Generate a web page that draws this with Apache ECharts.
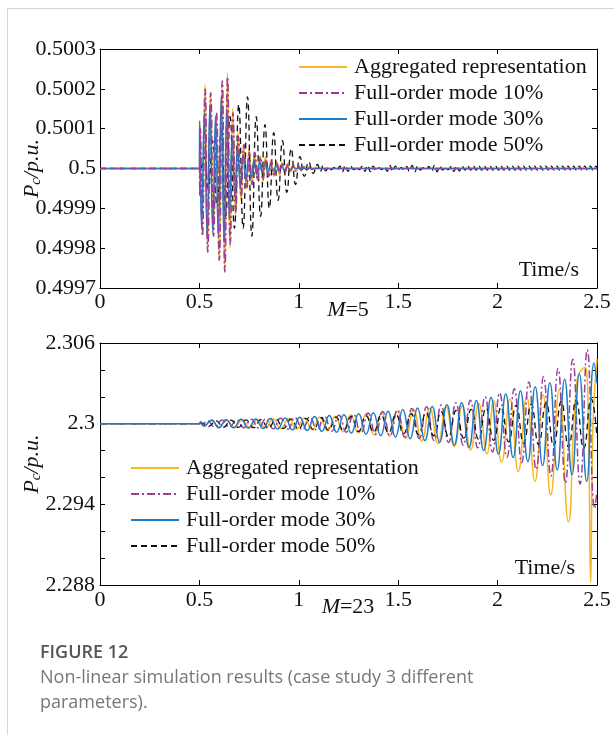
<!DOCTYPE html>
<html><head><meta charset="utf-8">
<script src="https://cdn.jsdelivr.net/npm/echarts@6/dist/echarts.min.js"></script>
<style>
html,body{margin:0;padding:0;background:#fff;}
#frame{position:absolute;left:7px;top:8px;width:607px;height:727px;border-left:1px solid #d6d6d6;border-top:1px solid #d6d6d6;}
#chart{position:absolute;left:0;top:0;width:614px;height:735px;}
</style></head><body>
<div id="frame"></div><div id="chart"></div>
<script>
const seriesNames = ['Aggregated representation','Full-order mode 10%','Full-order mode 30%','Full-order mode 50%'];
const xTickLabels = ['0','0.5','1','1.5','2','2.5'];
const topYTickLabels = ['0.4997','0.4998','0.4999','0.5','0.5001','0.5002','0.5003'];
const botYTickLabels = ['2.288','2.294','2.3','2.306'];

// ---- M=5 (top) ----
const topAgg = [[0,0.5],[0.5,0.5],[0.503,0.50011],[0.514,0.49984],[0.528,0.50021],[0.541,0.49980],[0.556,0.50019],[0.570,0.49984],[0.585,0.50013],[0.599,0.49977],[0.614,0.50021],[0.627,0.49975],[0.641,0.50024],[0.654,0.49980],[0.668,0.50015],[0.682,0.49988],[0.695,0.50009],[0.709,0.49992],[0.723,0.50006],[0.737,0.49995],[0.750,0.50005],[0.764,0.49996],[0.778,0.50004],[0.792,0.49997],[0.806,0.50003],[0.819,0.49997],[0.833,0.50003],[0.847,0.49998],[0.861,0.50002],[0.874,0.49998],[0.888,0.500018],[0.902,0.499985],[0.916,0.500014],[0.930,0.499988],[0.943,0.500011],[0.957,0.499991],[0.971,0.500009],[0.985,0.499993],[0.999,0.500007],[1.012,0.499995],[1.026,0.500005],[1.040,0.499996],[1.054,0.500004],[1.068,0.499997],[1.082,0.500003],[1.10,0.5],[2.5,0.5]];
const topF10 = [[0,0.5],[0.5,0.5],[0.502,0.49993],[0.505,0.50010],[0.515,0.49983],[0.529,0.50020],[0.542,0.49979],[0.557,0.50019],[0.571,0.49983],[0.586,0.50014],[0.600,0.49977],[0.615,0.50022],[0.628,0.49974],[0.642,0.50023],[0.655,0.49981],[0.669,0.50014],[0.683,0.49989],[0.696,0.50008],[0.710,0.49993],[0.724,0.50006],[0.738,0.49995],[0.751,0.50004],[0.765,0.49996],[0.779,0.50004],[0.793,0.49997],[0.807,0.50003],[0.820,0.49997],[0.834,0.50002],[0.848,0.49998],[0.862,0.500018],[0.875,0.499984],[0.889,0.500015],[0.903,0.499987],[0.917,0.500012],[0.931,0.49999],[0.944,0.50001],[0.958,0.499992],[0.972,0.500008],[0.986,0.499994],[1.0,0.500006],[1.013,0.499995],[1.027,0.500004],[1.041,0.499997],[1.055,0.500003],[1.069,0.499998],[1.09,0.5],[2.5,0.5]];
const topF30 = [[0,0.5],[0.5,0.5],[0.501,0.50012],[0.511,0.49985],[0.525,0.50014],[0.539,0.49983],[0.553,0.50016],[0.567,0.49984],[0.581,0.50013],[0.595,0.49983],[0.610,0.50018],[0.624,0.49982],[0.638,0.50015],[0.651,0.49988],[0.665,0.50008],[0.679,0.49993],[0.692,0.50005],[0.706,0.49996],[0.720,0.500035],[0.734,0.49997],[0.747,0.500025],[0.761,0.49998],[0.775,0.50002],[0.789,0.499985],[0.803,0.500015],[0.816,0.49999],[0.830,0.50001],[0.844,0.499992],[0.858,0.500008],[0.872,0.499994],[0.886,0.500006],[0.900,0.499995],[0.914,0.500005],[0.928,0.499996],[0.942,0.500004],[0.956,0.499997],[0.970,0.500003],[0.99,0.5],[2.5,0.5]];
const topF50 = [[0,0.5],[0.5,0.5],[0.522,0.50003],[0.544,0.49995],[0.566,0.50007],[0.588,0.49991],[0.610,0.50010],[0.632,0.49988],[0.654,0.50013],[0.676,0.49985],[0.698,0.50016],[0.720,0.49985],[0.742,0.50018],[0.764,0.49983],[0.786,0.50013],[0.808,0.49988],[0.830,0.50011],[0.852,0.49990],[0.874,0.50009],[0.896,0.49992],[0.918,0.50007],[0.940,0.49994],[0.962,0.50005],[0.984,0.49996],[1.006,0.50003],[1.028,0.49998],[1.050,0.500017],[1.072,0.499988],[1.094,0.50001],
[1.108,0.499992],[1.122,0.500007],[1.136,0.499994],[1.150,0.500004],[1.164,0.499997],[1.178,0.500003],[1.192,0.499996],[1.206,0.500006],[1.220,0.499992],[1.234,0.500008],[1.248,0.499993],[1.262,0.500005],[1.276,0.499997],[1.290,0.500002],[1.304,0.499997],[1.318,0.500005],[1.332,0.499993],[1.346,0.500008],[1.360,0.499992],[1.374,0.500006],[1.388,0.499996],[1.402,0.500002],[1.416,0.499997],[1.430,0.500005],[1.444,0.499993],[1.458,0.500008],[1.472,0.499992],[1.486,0.500006],[1.500,0.499996],[1.514,0.500002],[1.528,0.499997],[1.542,0.500005],[1.556,0.499993],[1.570,0.500008],[1.584,0.499992],[1.598,0.500006],[1.612,0.499996],[1.626,0.500002],[1.640,0.499997],[1.654,0.500005],[1.668,0.499993],[1.682,0.500008],[1.696,0.499992],[1.710,0.500006],[1.724,0.499996],[1.738,0.500002],[1.752,0.499997],[1.766,0.500005],[1.780,0.499993],[1.794,0.500007],[1.808,0.499994],[1.822,0.500006],[1.836,0.499996],[1.850,0.500006],[1.864,0.499996],[1.878,0.500006],[1.892,0.499996],[1.906,0.500006],[1.920,0.499996],[1.934,0.500006],[1.948,0.499996],[1.962,0.500006],[1.976,0.499996],[1.990,0.500006],[2.004,0.499996],[2.018,0.500006],[2.032,0.499996],[2.046,0.500006],[2.060,0.499996],[2.074,0.500006],[2.088,0.499996],[2.102,0.500006],[2.116,0.499996],[2.130,0.500006],[2.144,0.499996],[2.158,0.500006],[2.172,0.499996],[2.186,0.500006],[2.200,0.499996],[2.214,0.500006],[2.228,0.499996],[2.242,0.500006],[2.256,0.499996],[2.270,0.500006],[2.284,0.499996],[2.298,0.500006],[2.312,0.499996],[2.326,0.500006],[2.340,0.499996],[2.354,0.500006],[2.368,0.499996],[2.382,0.500006],[2.396,0.499996],[2.410,0.500006],[2.424,0.499996],[2.438,0.500006],[2.452,0.499996],[2.466,0.500006],[2.480,0.499996],[2.494,0.500006],[2.5,0.5]];

// ---- M=23 (bottom) ----
const botAgg = [[0,2.3],[0.5,2.3],[0.507,2.30010],[0.520,2.29982],[0.559,2.30024],[0.598,2.29974],[0.637,2.30026],[0.676,2.29972],[0.715,2.30028],[0.754,2.29970],[0.793,2.30031],[0.832,2.29967],[0.871,2.30034],[0.910,2.29963],[0.949,2.30038],[0.988,2.29959],[1.027,2.30043],[1.066,2.29954],[1.105,2.30049],[1.144,2.29947],[1.183,2.30056],[1.222,2.29939],[1.261,2.30064],[1.300,2.29930],[1.339,2.30073],[1.378,2.29918],[1.417,2.30083],[1.456,2.29905],[1.495,2.30094],[1.536,2.29890],[1.577,2.30104],[1.618,2.29872],[1.659,2.30114],[1.700,2.29852],[1.741,2.30125],[1.782,2.29830],[1.823,2.30136],[1.864,2.29805],[1.905,2.30150],[1.946,2.29775],[1.980,2.30170],[2.020,2.29715],[2.062,2.30182],[2.104,2.29643],[2.146,2.30200],[2.188,2.29570],[2.228,2.30215],[2.267,2.29470],[2.310,2.30250],[2.356,2.29270],[2.400,2.30330],[2.440,2.30420],[2.456,2.30000],[2.468,2.28820],[2.480,2.30000],[2.5,2.30480]];
const botF10 = [[0,2.3],[0.5,2.3],[0.507,2.30010],[0.515,2.29990],[0.540,2.30022],[0.577,2.29975],[0.614,2.30028],[0.651,2.29972],[0.687,2.30030],[0.724,2.29970],[0.761,2.30033],[0.798,2.29967],[0.834,2.30036],[0.871,2.29963],[0.908,2.30040],[0.945,2.29959],[0.981,2.30045],[1.018,2.29954],[1.055,2.30050],[1.092,2.29949],[1.128,2.30056],[1.165,2.29943],[1.202,2.30062],[1.239,2.29937],[1.275,2.30070],[1.312,2.29930],[1.349,2.30079],[1.386,2.29920],[1.422,2.30090],[1.459,2.29910],[1.496,2.30102],[1.533,2.29900],[1.569,2.30112],[1.606,2.29890],[1.643,2.30125],[1.680,2.29875],[1.716,2.30138],[1.753,2.29860],[1.790,2.30155],[1.827,2.29840],[1.863,2.30175],[1.900,2.29820],[1.937,2.30200],[1.974,2.29790],[2.010,2.30230],[2.047,2.29750],[2.084,2.30260],[2.121,2.29710],[2.157,2.30310],[2.194,2.29660],[2.231,2.30350],[2.268,2.29610],[2.304,2.30410],[2.341,2.29560],[2.378,2.30480],[2.415,2.29550],[2.451,2.30550],[2.488,2.29370],[2.5,2.29500]];
const botF30 = [[0,2.3],[0.5,2.3],[0.506,2.30014],[0.524,2.29980],[0.561,2.30028],[0.598,2.29970],[0.635,2.30030],[0.672,2.29969],[0.709,2.30032],[0.746,2.29967],[0.783,2.30035],[0.820,2.29964],[0.857,2.30038],[0.894,2.29960],[0.931,2.30043],[0.968,2.29954],[1.005,2.30048],[1.042,2.29949],[1.079,2.30054],[1.116,2.29943],[1.153,2.30060],[1.190,2.29937],[1.227,2.30066],[1.264,2.29930],[1.301,2.30073],[1.338,2.29922],[1.375,2.30082],[1.412,2.29912],[1.449,2.30093],[1.486,2.29900],[1.523,2.30105],[1.560,2.29888],[1.597,2.30116],[1.634,2.29874],[1.671,2.30128],[1.708,2.29860],[1.745,2.30140],[1.782,2.29842],[1.819,2.30155],[1.856,2.29822],[1.893,2.30172],[1.930,2.29800],[1.967,2.30195],[2.004,2.29775],[2.041,2.30220],[2.078,2.29748],[2.115,2.30245],[2.152,2.29718],[2.189,2.30275],[2.226,2.29688],[2.263,2.30305],[2.300,2.29655],[2.337,2.30330],[2.374,2.29620],[2.411,2.30370],[2.448,2.29570],[2.485,2.30452],[2.5,2.30300]];
const botF50 = [[0,2.3],[0.5,2.3],[0.507,2.30008],[0.545,2.29978],[0.583,2.30022],[0.621,2.29974],[0.659,2.30026],[0.696,2.29972],[0.734,2.30028],[0.772,2.29970],[0.810,2.30030],[0.847,2.29967],[0.885,2.30033],[0.923,2.29964],[0.961,2.30036],[0.998,2.29960],[1.036,2.30040],[1.074,2.29956],[1.112,2.30044],[1.149,2.29952],[1.187,2.30048],[1.225,2.29947],[1.263,2.30053],[1.300,2.29942],[1.338,2.30058],[1.376,2.29937],[1.414,2.30063],[1.451,2.29931],[1.489,2.30069],[1.527,2.29925],[1.565,2.30075],[1.602,2.29918],[1.640,2.30082],[1.678,2.29910],[1.716,2.30090],[1.753,2.29902],[1.791,2.30098],[1.829,2.29893],[1.867,2.30107],[1.904,2.29884],[1.942,2.30116],[1.980,2.29875],[2.018,2.30125],[2.055,2.29865],[2.093,2.30135],[2.131,2.29855],[2.169,2.30145],[2.206,2.29845],[2.244,2.30155],[2.282,2.29835],[2.320,2.30165],[2.357,2.29825],[2.395,2.30175],[2.433,2.29815],[2.471,2.30185],[2.5,2.29900]];

const SERIF = 'Liberation Serif';
const C_AGG = '#F8B622', C_10 = '#9C3F9C', C_30 = '#1F7BC4', C_50 = '#111111';

function fmtX(v){ return xTickLabels[Math.round(v/0.5)] || ''; }
function fmtTopY(v){ return topYTickLabels[Math.round((v-0.4997)/0.0001)] || ''; }
function fmtBotY(v){ const k = Math.round((v-2.288)/0.002); return (k%3===0) ? (botYTickLabels[k/3]||'') : ''; }

const axLine = {show:true, onZero:false, lineStyle:{color:'#000', width:1}};
const axTick = {show:true, inside:true, length:5, lineStyle:{color:'#000', width:1}};
const lbl = {color:'#111', fontFamily:SERIF, fontSize:22};

function xAxes(gi, margin){
  return [
    {type:'value', gridIndex:gi, min:0, max:2.5, interval:0.5, position:'bottom', axisLine:axLine, axisTick:axTick,
     axisLabel:Object.assign({margin:margin, formatter:fmtX, showMaxLabel:true, showMinLabel:true}, lbl), splitLine:{show:false}},
    {type:'value', gridIndex:gi, min:0, max:2.5, interval:0.5, position:'top', axisLine:axLine, axisTick:axTick,
     axisLabel:{show:false}, splitLine:{show:false}}
  ];
}
function yAxes(gi, min, max, interval, fmt, margin){
  return [
    {type:'value', gridIndex:gi, min:min, max:max, interval:interval, position:'left', axisLine:axLine, axisTick:axTick,
     axisLabel:Object.assign({margin:margin, formatter:fmt, showMaxLabel:true, showMinLabel:true}, lbl), splitLine:{show:false},
     name:'{i|P}{s|c}{i|/p.u.}', nameLocation:'middle', nameGap:56, nameRotate:90, nameMoveOverlap:false,
     nameTextStyle:{fontFamily:SERIF, fontSize:22, color:'#111',
       rich:{i:{fontFamily:SERIF, fontSize:22, fontStyle:'italic', color:'#111'},
             s:{fontFamily:SERIF, fontSize:15, fontStyle:'italic', color:'#111', padding:[9,0,0,0]}}}},
    {type:'value', gridIndex:gi, min:min, max:max, interval:interval, position:'right', axisLine:axLine, axisTick:axTick,
     axisLabel:{show:false}, splitLine:{show:false}}
  ];
}

function line(name, data, gi, color, type, width, z){
  return {name:name, type:'line', xAxisIndex:gi*2, yAxisIndex:gi*2, data:data, symbol:'none', showSymbol:false,
    smooth:0.5, z:z, silent:true, animation:false,
    itemStyle:{color:color}, lineStyle:{color:color, width:width, type:type}};
}

const legendText = {fontFamily:SERIF, fontSize:22, color:'#111', padding:[0,0,0,2]};
const legendBase = {orient:'vertical', padding:0, itemWidth:48, itemHeight:14, itemGap:4, selectedMode:false,
  data:seriesNames, textStyle:legendText, itemStyle:{opacity:0, borderWidth:0}};

const option = {
  animation:false,
  grid:[
    {left:100, top:49, width:497, height:239},
    {left:100, top:343, width:497, height:242}
  ],
  xAxis: xAxes(0,3).concat(xAxes(1,4)),
  yAxis: yAxes(0,0.4997,0.5003,0.0001,fmtTopY,4).concat(yAxes(1,2.288,2.306,0.002,fmtBotY,5)),
  legend:[
    Object.assign({left:298, top:56}, legendBase),
    Object.assign({left:130, top:457}, legendBase)
  ],
  series:[
    line(seriesNames[0], topAgg, 0, C_AGG, 'solid', 1.6, 2),
    line(seriesNames[3], topF50, 0, C_50, [6,4], 1.3, 3),
    line(seriesNames[2], topF30, 0, C_30, 'solid', 1.5, 4),
    line(seriesNames[1], topF10, 0, C_10, [8,3,2,3], 1.6, 5),
    line(seriesNames[0], botAgg, 1, C_AGG, 'solid', 1.5, 2),
    line(seriesNames[1], botF10, 1, C_10, [8,3,2,3], 1.5, 3),
    line(seriesNames[3], botF50, 1, C_50, [6,4], 1.3, 4),
    line(seriesNames[2], botF30, 1, C_30, 'solid', 1.5, 5)
  ],
  graphic:[
    {type:'text', x:579, y:270, style:{text:'Time/s', fontFamily:SERIF, fontSize:22, fill:'#111', align:'right', verticalAlign:'middle'}},
    {type:'text', x:575, y:568, style:{text:'Time/s', fontFamily:SERIF, fontSize:22, fill:'#111', align:'right', verticalAlign:'middle'}},
    {type:'text', x:348, y:310, style:{text:'{i|M}=5', fontFamily:SERIF, fontSize:22, fill:'#111', align:'center', verticalAlign:'middle',
       rich:{i:{fontFamily:SERIF, fontSize:22, fontStyle:'italic', fill:'#111'}}}},
    {type:'text', x:348, y:607, style:{text:'{i|M}=23', fontFamily:SERIF, fontSize:22, fill:'#111', align:'center', verticalAlign:'middle',
       rich:{i:{fontFamily:SERIF, fontSize:22, fontStyle:'italic', fill:'#111'}}}},
    {type:'text', x:40, y:653, style:{text:'FIGURE 12', fontFamily:'Open Sans', fontWeight:600, fontSize:18, fill:'#555', verticalAlign:'middle'}},
    {type:'text', x:40, y:678, style:{text:'Non-linear simulation results (case study 3 different', fontFamily:'Open Sans', fontSize:18, fill:'#777', verticalAlign:'middle'}},
    {type:'text', x:40, y:703, style:{text:'parameters).', fontFamily:'Open Sans', fontSize:18, fill:'#777', verticalAlign:'middle'}}
  ]
};

const chart = echarts.init(document.getElementById('chart'), null, {renderer:'canvas'});
chart.setOption(option);
</script></body></html>
